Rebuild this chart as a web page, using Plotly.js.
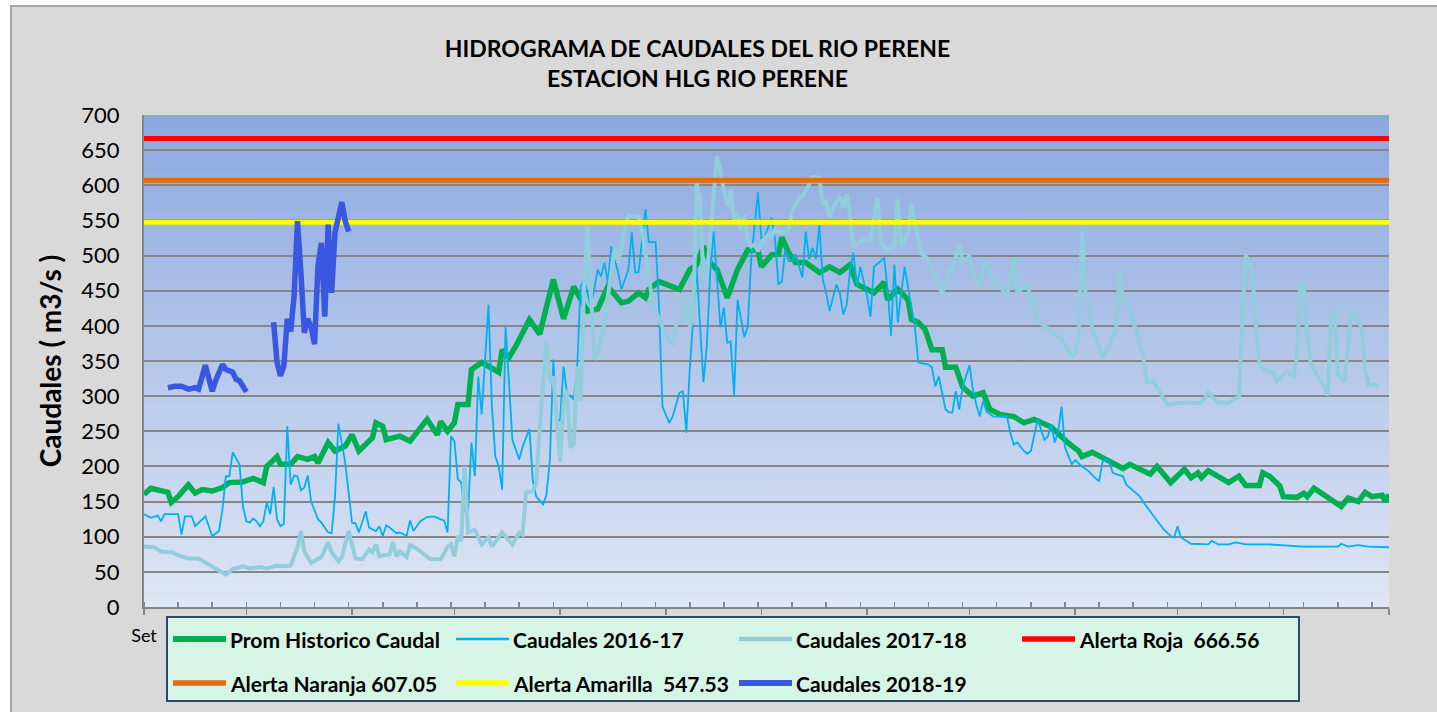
<!DOCTYPE html>
<html><head><meta charset="utf-8">
<script src="https://cdn.plot.ly/plotly-3.0.1.min.js"></script>
<style>
html,body{margin:0;padding:0;background:#ffffff;overflow:hidden;}
#frame{position:absolute;left:10px;top:5px;width:1440px;height:720px;background:#D9D9D9;border:2px solid #A6A6A6;box-sizing:border-box;}
#chart{position:absolute;left:0;top:0;width:1437px;height:712px;}
</style></head>
<body><div id="frame"></div><div id="chart"></div>
<script>
// ---- data (x = day of hydrological year starting 1 Sept) ----
const promHistorico = [[0,160],[2,169],[7,163],[8,149],[10,157],[13,174],[15,162],[17,167],[20,165],[23,170],[25,177],[29,178],[32,183],[35,177],[36,200],[39,214],[40,203],[43,203],[45,214],[48,210],[50,214],[51,205],[54,234],[56,222],[59,229],[61,245],[63,222],[67,241],[68,262],[70,257],[71,238],[75,243],[78,236],[80,248],[83,267],[86,245],[87,264],[89,250],[91,262],[92,288],[95,288],[96,338],[99,348],[104,334],[105,366],[107,355],[109,371],[113,409],[116,388],[118,427],[120,466],[123,410],[126,456],[130,421],[133,424],[136,456],[140,433],[142,435],[145,447],[147,440],[148,452],[151,463],[157,452],[160,480],[162,487],[164,513],[166,490],[168,480],[171,440],[174,480],[177,508],[180,508],[181,484],[184,501],[186,502],[187,526],[189,504],[191,490],[194,490],[198,476],[201,484],[204,476],[207,487],[209,459],[212,452],[214,447],[217,462],[218,437],[221,452],[224,437],[225,409],[227,405],[229,395],[231,366],[234,366],[235,341],[238,341],[240,313],[243,300],[246,305],[248,281],[251,274],[255,271],[258,262],[261,267],[264,260],[266,256],[271,233],[274,222],[275,214],[278,220],[282,210],[287,197],[289,203],[295,189],[297,200],[301,177],[305,196],[307,184],[309,191],[310,184],[312,194],[315,186],[318,177],[321,186],[323,173],[327,173],[328,191],[330,186],[333,172],[334,157],[338,156],[340,162],[341,157],[343,169],[348,153],[351,143],[353,155],[356,150],[358,163],[360,157],[363,159],[364,150],[365,160]];

const caudales1617 = [[0,132],[2,127],[4,130],[5,122],[6,132],[10,132],[11,103],[12,129],[14,129],[15,115],[18,129],[20,101],[22,108],[23,139],[24,186],[25,186],[26,220],[28,203],[29,143],[30,122],[31,120],[32,126],[33,122],[34,115],[35,122],[36,149],[37,132],[38,171],[39,125],[40,115],[41,118],[42,257],[43,174],[44,187],[45,186],[46,166],[47,170],[48,187],[49,150],[51,125],[52,120],[54,106],[55,105],[56,157],[57,261],[59,205],[61,120],[62,119],[63,106],[64,122],[65,136],[66,113],[68,108],[69,115],[70,101],[71,116],[72,113],[74,105],[75,106],[77,101],[78,123],[79,108],[81,122],[83,128],[85,129],[88,123],[89,106],[90,243],[91,236],[92,182],[93,177],[94,136],[95,134],[96,234],[97,186],[98,328],[99,274],[101,430],[102,285],[103,214],[104,200],[105,167],[106,399],[107,320],[108,238],[110,210],[111,228],[113,253],[114,179],[115,157],[117,146],[118,160],[119,210],[120,352],[121,262],[122,267],[123,342],[124,305],[126,295],[127,342],[128,456],[129,466],[131,427],[132,452],[133,480],[134,470],[135,490],[136,462],[137,513],[139,476],[140,452],[142,480],[143,533],[144,476],[145,476],[147,566],[148,519],[150,519],[151,427],[152,285],[154,262],[155,271],[157,305],[158,307],[159,248],[160,338],[161,418],[162,484],[164,320],[165,371],[166,476],[167,534],[169,398],[170,426],[171,376],[172,378],[173,300],[174,437],[176,384],[177,399],[178,494],[180,590],[181,523],[182,527],[184,554],[185,523],[186,459],[187,463],[188,509],[189,492],[190,492],[191,502],[193,469],[194,534],[195,495],[196,511],[197,495],[198,543],[199,466],[200,447],[201,421],[203,459],[204,447],[205,416],[206,430],[207,480],[208,504],[209,456],[210,484],[212,442],[213,413],[214,484],[216,492],[217,497],[218,452],[219,386],[220,487],[221,405],[222,447],[223,484],[225,426],[226,399],[227,348],[230,345],[231,341],[232,314],[233,328],[235,281],[236,277],[237,277],[238,307],[239,281],[240,313],[242,344],[243,310],[244,288],[245,271],[246,293],[247,278],[249,271],[251,271],[253,271],[254,248],[255,231],[256,234],[258,222],[259,218],[260,222],[262,267],[264,238],[265,243],[266,260],[267,234],[268,250],[269,285],[270,227],[272,203],[273,209],[275,200],[277,193],[279,183],[280,179],[281,206],[282,210],[283,207],[284,191],[285,189],[287,186],[288,174],[290,165],[292,157],[293,149],[295,136],[297,122],[299,110],[301,101],[302,99],[303,115],[304,99],[307,90],[312,89],[313,94],[315,89],[318,89],[320,92],[323,89],[330,89],[340,86],[350,86],[351,90],[353,86],[356,88],[359,86],[365,85]];

const caudales1718 = [[0,86],[3,85],[5,79],[8,78],[11,72],[13,69],[16,69],[18,63],[21,54],[24,46],[26,54],[29,58],[31,55],[34,57],[36,55],[39,59],[41,58],[43,59],[45,85],[46,108],[47,79],[49,63],[52,71],[54,92],[55,78],[57,65],[58,71],[60,108],[62,69],[64,68],[66,82],[67,78],[68,89],[69,72],[72,75],[73,92],[74,72],[75,79],[77,71],[78,88],[80,83],[82,75],[84,68],[87,68],[89,86],[90,89],[91,72],[92,101],[93,94],[94,200],[95,106],[97,110],[99,89],[101,99],[102,86],[105,106],[108,89],[110,106],[111,103],[112,163],[114,165],[115,177],[116,253],[118,378],[119,320],[120,328],[121,262],[122,207],[123,291],[124,309],[125,227],[126,231],[127,342],[128,293],[129,456],[130,541],[131,452],[132,352],[133,359],[135,405],[136,442],[137,473],[138,511],[139,490],[140,513],[142,558],[143,556],[145,556],[146,537],[148,470],[149,437],[151,409],[153,388],[155,372],[156,402],[158,409],[159,442],[160,399],[161,409],[162,604],[163,580],[164,466],[165,470],[167,584],[168,641],[170,594],[171,570],[172,594],[173,551],[174,561],[175,537],[176,558],[177,523],[178,513],[179,516],[180,506],[181,519],[183,530],[184,527],[185,537],[187,532],[189,537],[190,563],[192,582],[193,584],[195,601],[196,612],[198,611],[199,573],[200,577],[201,554],[202,568],[204,584],[205,568],[206,587],[207,558],[208,511],[211,523],[213,523],[215,582],[216,519],[218,509],[220,513],[221,580],[222,513],[224,532],[225,573],[226,547],[228,502],[230,495],[231,480],[234,447],[236,476],[237,480],[239,516],[240,492],[242,499],[243,476],[245,456],[246,480],[247,492],[249,463],[251,456],[253,442],[255,497],[256,447],[259,459],[260,437],[261,437],[262,406],[265,397],[266,392],[269,380],[271,366],[272,355],[273,362],[274,385],[275,534],[276,449],[277,428],[278,395],[280,369],[281,355],[283,371],[285,395],[286,480],[287,435],[288,433],[290,406],[291,392],[293,355],[294,320],[296,320],[298,305],[300,288],[303,290],[306,291],[308,290],[310,291],[312,305],[315,290],[316,291],[318,290],[320,297],[321,300],[322,409],[323,502],[325,476],[326,399],[327,345],[329,335],[331,335],[332,321],[335,335],[337,328],[338,355],[339,462],[340,455],[341,391],[342,348],[343,338],[346,314],[347,301],[348,409],[349,424],[350,331],[352,321],[354,419],[356,409],[357,395],[358,338],[359,316],[361,317],[362,314]];

const caudales1819 = [[7,312],[9,314],[11,314],[13,310],[15,312],[16,310],[18,344],[20,307],[21,322],[23,345],[24,338],[26,334],[27,324],[28,322],[30,306],[34,null],[38,405],[39,348],[40,329],[41,343],[42,410],[43,392],[44,442],[45,549],[46,476],[47,390],[48,410],[49,398],[50,374],[51,485],[52,518],[53,413],[54,544],[55,447],[56,533],[58,576],[59,549],[60,534]];

const alertaRoja = 666.56;
const alertaNaranja = 607.05;
const alertaAmarilla = 547.53;
const seasonSpan = [0, 365];

const monthTickDays = [0,30,61,91,122,153,181,212,242,273,303,334,365];
const monthTickText = ['Set','','','','','','','','','','','',''];
const yTickVals = [0,50,100,150,200,250,300,350,400,450,500,550,600,650,700];

const chartTitle = 'HIDROGRAMA DE CAUDALES DEL RIO PERENE<br>ESTACION HLG RIO PERENE';
const yTitle = 'Caudales ( m3/s )';

// ---- layout helpers ----
const M = {l:144, r:48, t:115, b:105};
const W = 1437, H = 712;
const PW = W - M.l - M.r, PH = H - M.t - M.b;
const px2x = p => (p - M.l) / PW;
const px2y = p => (M.t + PH - p) / PH;
const FONT = 'Lato, Carlito, "Open Sans", sans-serif';

const xs = a => a.map(d => d[0]);
const ys = a => a.map(d => d[1]);

const series = [
  {name:'Prom Historico Caudal', data:promHistorico, color:'#00B050', width:5.5},
  {name:'Caudales 2016-17', data:caudales1617, color:'#00B0F0', width:1.8},
  {name:'Caudales 2017-18', data:caudales1718, color:'#92CDDC', width:4},
  {name:'Alerta Roja&nbsp; 666.56', data:seasonSpan.map(d=>[d,alertaRoja]), color:'#FF0000', width:5},
  {name:'Alerta Naranja 607.05', data:seasonSpan.map(d=>[d,alertaNaranja]), color:'#E46C0A', width:5},
  {name:'Alerta Amarilla&nbsp; 547.53', data:seasonSpan.map(d=>[d,alertaAmarilla]), color:'#FFFF00', width:5},
  {name:'Caudales 2018-19', data:caudales1819, color:'#3A57E1', width:5.5}
];

const traces = series.map(s => ({
  type:'scatter', mode:'lines', name:s.name,
  x: xs(s.data), y: ys(s.data), connectgaps:false,
  line:{color:s.color, width:s.width, shape:'linear'},
  hoverinfo:'x+y+name', showlegend:false
}));

// ---- custom legend (Excel style: long line keys, 4 columns, 2 rows) ----
const legBox = {x0:167, x1:1299, y0:617, y1:701};
const colX = [173, 456, 739, 1022];
const rowY = [639, 683];
const keyLen = 53;
const shapes = [{
  type:'rect', xref:'paper', yref:'paper', layer:'above',
  x0:px2x(legBox.x0), x1:px2x(legBox.x1), y0:px2y(legBox.y0), y1:px2y(legBox.y1),
  fillcolor:'#D7F5E6', line:{color:'#2F4A68', width:2}
}];
const annotations = [];
series.forEach((s, i) => {
  const cx = colX[i % 4], cy = rowY[Math.floor(i / 4)];
  shapes.push({type:'line', xref:'paper', yref:'paper', layer:'above',
    x0:px2x(cx), x1:px2x(cx + keyLen), y0:px2y(cy), y1:px2y(cy),
    line:{color:s.color, width:Math.max(s.width, 2.2) + 0.5}});
  annotations.push({xref:'paper', yref:'paper', x:px2x(cx + keyLen + 2), y:px2y(cy),
    xanchor:'left', yanchor:'middle', showarrow:false, text:s.name,
    font:{family:FONT, size:21, color:'#000', weight:'bold'}});
});

// plot-area vertical gradient
const gradSvg = '<svg xmlns="http://www.w3.org/2000/svg" width="10" height="100" viewBox="0 0 10 100" preserveAspectRatio="none"><defs><linearGradient id="g" x1="0" y1="0" x2="0" y2="1"><stop offset="0" stop-color="#8AA8DF"/><stop offset="1" stop-color="#DFE6F5"/></linearGradient></defs><rect x="0" y="0" width="10" height="100" fill="url(#g)"/></svg>';
const gradSrc = 'data:image/svg+xml;charset=utf-8,' + encodeURIComponent(gradSvg);

const layout = {
  width:W, height:H, margin:M,
  paper_bgcolor:'rgba(0,0,0,0)', plot_bgcolor:'rgba(0,0,0,0)',
  font:{family:FONT, color:'#000'},
  showlegend:false,
  title:{text:chartTitle, font:{family:FONT, size:23, color:'#000', weight:'bold'},
    xref:'paper', x:px2x(697.5), xanchor:'center', yref:'container', y:1 - 57/H, yanchor:'top'},
  xaxis:{
    range:seasonSpan, tickmode:'array', tickvals:monthTickDays, ticktext:monthTickText,
    ticks:'outside', ticklen:6, tickwidth:1.5, tickcolor:'#868686',
    minor:{tickmode:'linear', tick0:0, dtick:10, ticks:'inside', ticklen:5, tickwidth:1.5, tickcolor:'#868686', showgrid:false},
    showgrid:false, zeroline:false, showline:true, linecolor:'#868686', linewidth:2,
    tickfont:{family:FONT, size:18, color:'#000'}, ticklabelstandoff:5, fixedrange:true
  },
  yaxis:{
    range:[0,700], tickmode:'array', tickvals:yTickVals,
    ticks:'', showgrid:true, gridcolor:'#868686', gridwidth:2,
    zeroline:false, showline:true, linecolor:'#868686', linewidth:2,
    tickfont:{family:FONT, size:22, color:'#000'}, ticklabelstandoff:18,
    title:{text:yTitle, font:{family:FONT, size:28, color:'#000', weight:'bold'}, standoff:12},
    fixedrange:true
  },
  images:[{source:gradSrc, xref:'x domain', yref:'y domain', x:0, y:1, sizex:1, sizey:1,
    xanchor:'left', yanchor:'top', sizing:'stretch', layer:'below'}],
  shapes:shapes, annotations:annotations
};

Plotly.newPlot('chart', traces, layout, {displayModeBar:false, staticPlot:true});
</script></body></html>
